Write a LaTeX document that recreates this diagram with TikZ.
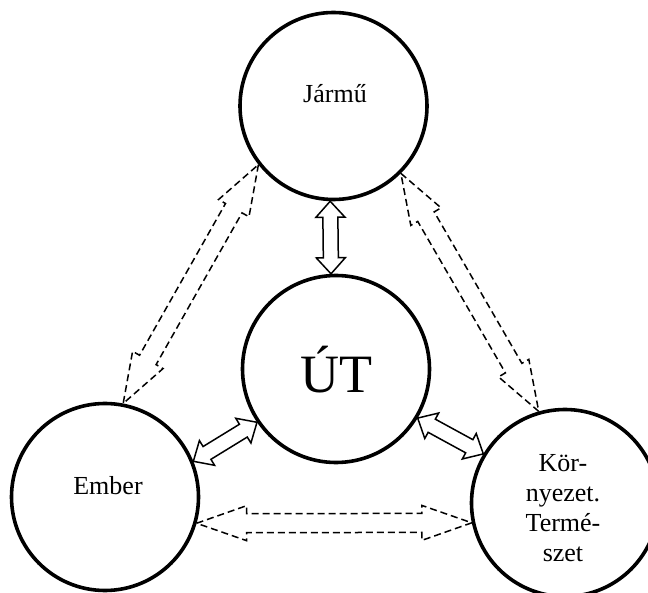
\documentclass[tikz,border=0pt]{standalone}
\usepackage{fontspec}
\setmainfont{Liberation Serif}
\usetikzlibrary{calc}
\newcommand{\dblarr}[6]{%
 \draw[#6] (#1) -- ($(#1)!#3!(#2)!#4!90:(#2)$) -- ($(#1)!#3!(#2)!#5!90:(#2)$)
   -- ($(#2)!#3!(#1)!#5!-90:(#1)$) -- ($(#2)!#3!(#1)!#4!-90:(#1)$) -- (#2)
   -- ($(#2)!#3!(#1)!#4!90:(#1)$) -- ($(#2)!#3!(#1)!#5!90:(#1)$)
   -- ($(#1)!#3!(#2)!#5!-90:(#2)$) -- ($(#1)!#3!(#2)!#4!-90:(#2)$) -- cycle;}
\begin{document}
\begin{tikzpicture}[x=1pt,y=-1pt,
 circ/.style={circle,draw,line width=3.6pt,minimum size=187pt,inner sep=0pt},
 lbl/.style={font=\fontsize{26}{30}\selectfont,anchor=base,align=center},
 solidarr/.style={line width=1.5pt,fill=white,line join=miter},
 dasharr/.style={line width=1.5pt,dash pattern=on 7pt off 4pt,line join=miter}]
\useasboundingbox (0,0) rectangle (648,593);
\clip (0,0) rectangle (648,593);
\node[circ] (J) at (333.5,106) {};
\node[circ] (U) at (336,369) {};
\node[circ] (E) at (105,497) {};
\node[circ] (K) at (565,503) {};
\node[lbl] (tJ) at (335,103) {Jármű};
\node[lbl,font=\fontsize{54}{60}\selectfont] (tU) at (336.5,393) {ÚT};
\node[lbl] (tE) at (108,494) {Ember};
\node[lbl] (tK) at (563,561) {Kör-\\nyezet.\\Termé-\\szet};
\coordinate (ju1) at (J.268.5); \coordinate (ju2) at (U.93);
\coordinate (eu1) at (E.22.4); \coordinate (eu2) at (U.214.7);
\coordinate (uk1) at (U.329.4); \coordinate (uk2) at (K.149);
\coordinate (je1) at (J.218.75); \coordinate (je2) at (E.79.5);
\coordinate (jk1) at (J.315.2); \coordinate (jk2) at (K.106.4);
\coordinate (ek1) at (E.344.2); \coordinate (ek2) at (K.192.8);
\dblarr{ju1}{ju2}{16pt}{14.5pt}{7.5pt}{solidarr}
\dblarr{eu1}{eu2}{16pt}{14.5pt}{7.5pt}{solidarr}
\dblarr{uk1}{uk2}{16pt}{14.5pt}{7.5pt}{solidarr}
\dblarr{je1}{je2}{50pt}{17.5pt}{9.5pt}{dasharr}
\dblarr{jk1}{jk2}{50pt}{17.5pt}{9.5pt}{dasharr}
\dblarr{ek1}{ek2}{50pt}{17.5pt}{9.5pt}{dasharr}
\end{tikzpicture}
\end{document}
